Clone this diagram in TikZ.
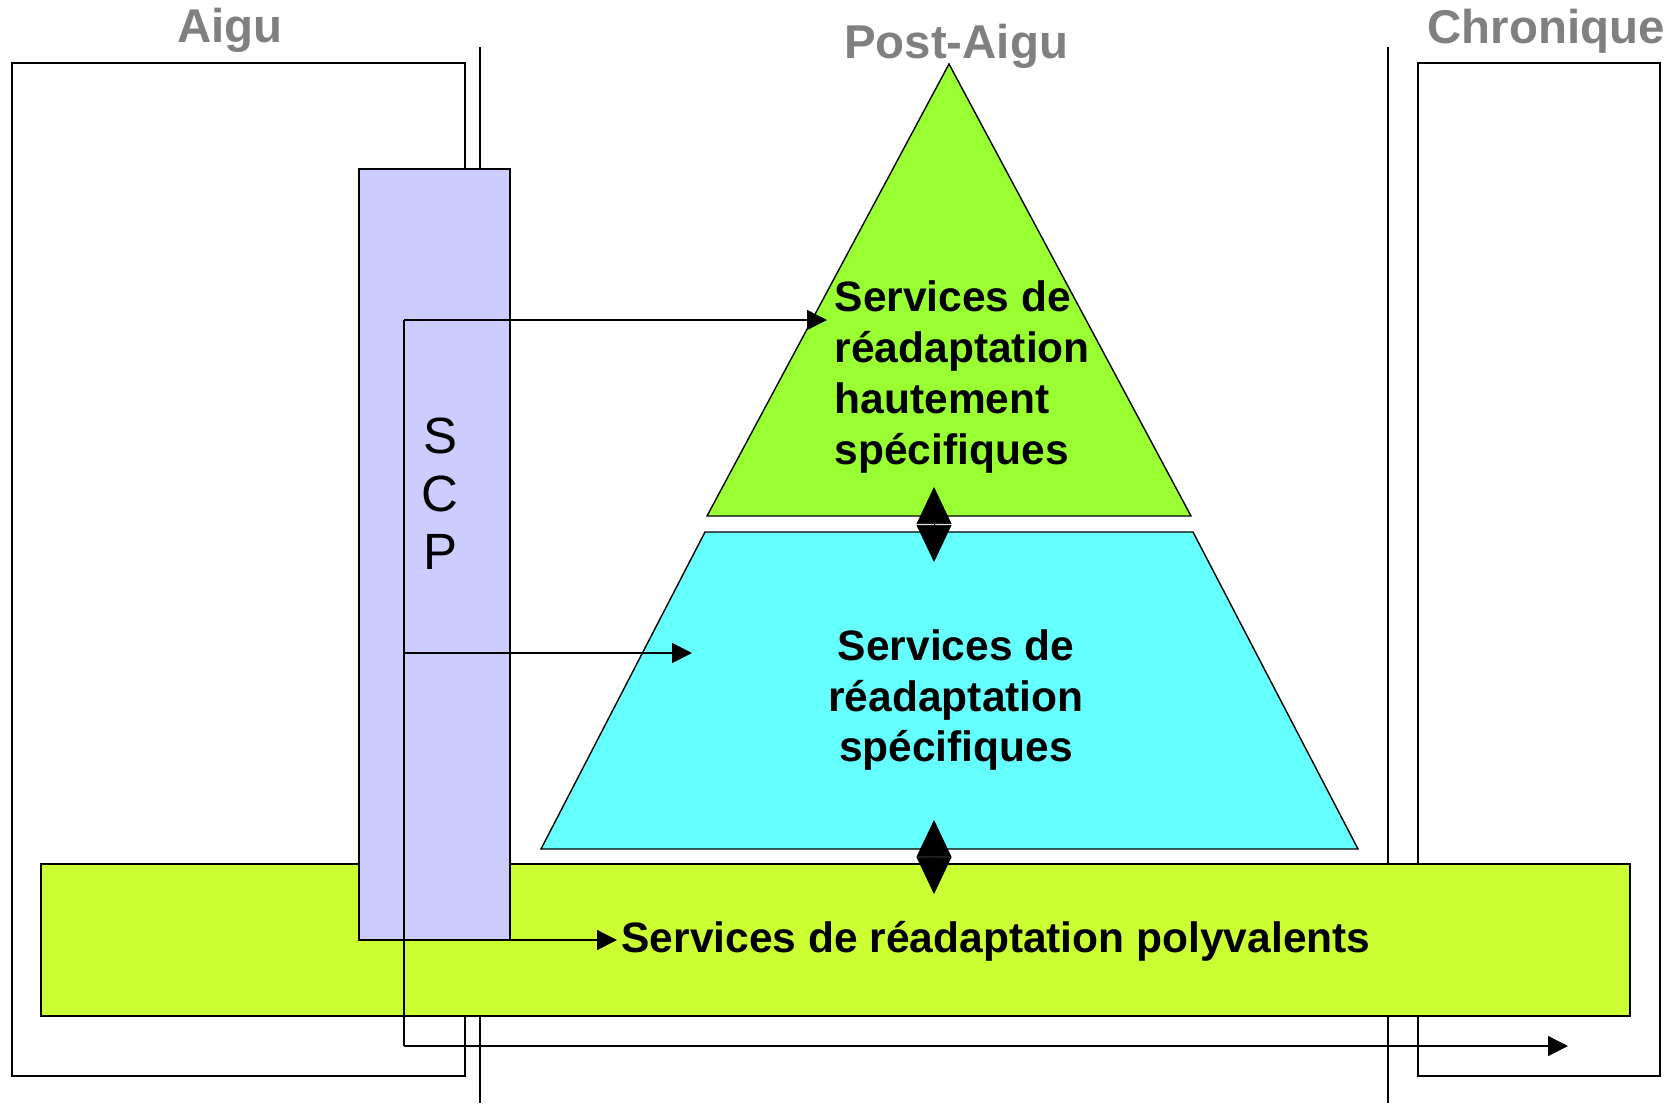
\documentclass[tikz,border=0pt]{standalone}
\usepackage{fontspec}
\setmainfont{Liberation Sans}
\usepackage{xcolor}
\usetikzlibrary{arrows.meta,positioning,calc}

\definecolor{topgreen}{HTML}{99FF33}
\definecolor{midcyan}{HTML}{66FFFF}
\definecolor{basegreen}{HTML}{CCFF33}
\definecolor{scpblue}{HTML}{CCCCFF}
\definecolor{labelgray}{HTML}{808080}

\begin{document}
\begin{tikzpicture}[x=0.02cm, y=-0.02cm, line width=0.8pt,
    phase/.style={font=\fontsize{27}{31}\selectfont\bfseries, text=labelgray, inner sep=0pt},
    levelbox/.style={draw=black, line width=0.8pt},
    service/.style={font=\fontsize{24.2}{29}\selectfont\bfseries, inner sep=0pt},
    scptext/.style={font=\fontsize{29}{33}\selectfont, align=center, inner sep=0pt},
    link/.style={draw, -{Triangle[length=0.4cm,width=0.4cm]}},
    dblarrow/.style={draw=black, line width=0.4pt,
        {Triangle[length=0.74cm,width=0.7cm]}-{Triangle[length=0.74cm,width=0.7cm]}}]

    \useasboundingbox (0,0) rectangle (1679,1103);

    % Phases
    \draw (12,63) rectangle (465,1076);
    \draw (1418,63) rectangle (1660,1076);
    \draw (480,47) -- (480,1103);
    \draw (1388,47) -- (1388,1103);
    \node[phase] (aigu) at (230,30) {Aigu};
    \node[phase] (postaigu) at (956,46) {Post-Aigu};
    \node[phase] (chronique) at (1546,31) {Chronique};

    % Pyramid levels
    \draw[levelbox, fill=basegreen] (41,864) rectangle (1630,1016);
    \draw[levelbox, fill=midcyan] (705,532) -- (1193,532) -- (1358,849) -- (541,849) -- cycle;
    \draw[levelbox, fill=topgreen] (949,64) -- (1191,516) -- (707,516) -- cycle;

    \node[service, align=left, anchor=west] (high) at (834,377)
        {Services de\\réadaptation\\hautement\\spécifiques};
    \node[service, align=center] (specific) at (956,700)
        {Services de\\réadaptation\\spécifiques};
    \node[service] (general) at (996,941) {Services de réadaptation polyvalents};

    % SCP
    \draw[levelbox, fill=scpblue] (359,169) rectangle (510,940);
    \node[scptext] (scp) at (440,494) {S\\C\\P};

    % Coordinates for the connectors
    \coordinate (trunktop) at (404,320);
    \coordinate (trunkmid) at (404,653);
    \coordinate (trunkbot) at (404,1046);
    \coordinate (toHigh) at (827,320);
    \coordinate (toSpecific) at (692,653);
    \coordinate (toGeneral) at (617,940);
    \coordinate (toChronic) at (1568,1046);
    \coordinate (scpcorner) at (510,940);

    % Connections
    \draw (trunktop) -- (trunkbot);
    \draw[link] (trunktop) -- (toHigh);
    \draw[link] (trunkmid) -- (toSpecific);
    \draw[link] (scpcorner) -- (toGeneral);
    \draw[link] (trunkbot) -- (toChronic);

    \coordinate (hiA) at (934,487);
    \coordinate (hiB) at (934,562);
    \coordinate (loA) at (934,820);
    \coordinate (loB) at (934,894);
    \draw[dblarrow] (hiA) -- (hiB);
    \draw[dblarrow] (loA) -- (loB);

\end{tikzpicture}
\end{document}
